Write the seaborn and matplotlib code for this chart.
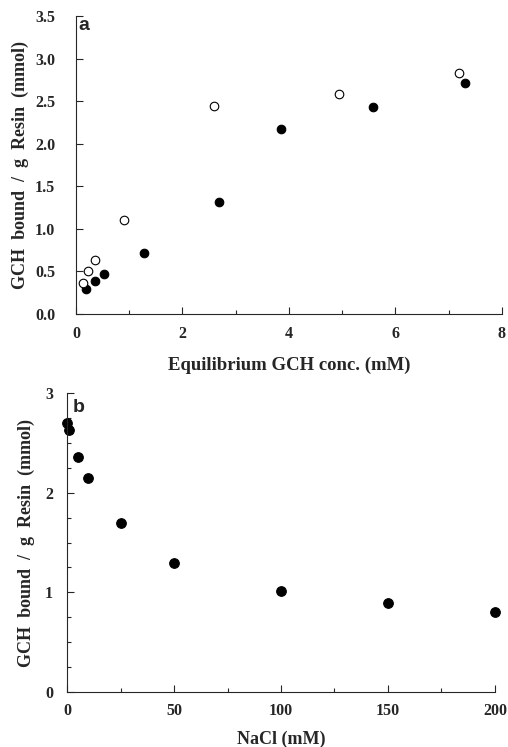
import numpy as np
import pandas as pd
import seaborn as sns
import matplotlib.pyplot as plt
from matplotlib.ticker import MultipleLocator, FormatStrFormatter

# Panel a: equilibrium binding (filled and open series)
conc_filled = [0.19, 0.35, 0.53, 1.28, 2.69, 3.86, 5.57, 7.31]
bound_filled = [0.29, 0.39, 0.47, 0.72, 1.31, 2.17, 2.43, 2.71]
conc_open = [0.13, 0.23, 0.36, 0.91, 2.59, 4.94, 7.19]
bound_open = [0.36, 0.50, 0.63, 1.10, 2.44, 2.58, 2.83]

# Panel b: effect of NaCl
nacl = [0, 1, 5, 10, 25, 50, 100, 150, 200]
bound_nacl = [2.70, 2.63, 2.36, 2.15, 1.70, 1.29, 1.01, 0.89, 0.80]

ylab = 'GCH  bound  /  g  Resin  (mmol)'

sns.set_style('ticks')
plt.rcParams['font.family'] = ['Liberation Serif', 'DejaVu Serif']
plt.rcParams['font.weight'] = 'bold'
plt.rcParams['axes.labelweight'] = 'bold'

fig = plt.figure(figsize=(5.08, 7.47), dpi=100)
ax1 = fig.add_axes([0.1496, 0.5797, 0.8384, 0.3989])
ax2 = fig.add_axes([0.1319, 0.0736, 0.8425, 0.4003])

sns.scatterplot(x=conc_filled, y=bound_filled, ax=ax1, s=38, color='black',
                edgecolor='black', linewidth=0.8, clip_on=False)
sns.scatterplot(x=conc_open, y=bound_open, ax=ax1, s=38, facecolor='white',
                edgecolor='black', linewidth=0.8, clip_on=False)
sns.scatterplot(x=nacl, y=bound_nacl, ax=ax2, s=48, color='black',
                edgecolor='black', linewidth=0.8, clip_on=False)

ax1.set_xlim(0, 8)
ax1.set_ylim(0, 3.5)
ax1.xaxis.set_major_locator(MultipleLocator(2))
ax1.xaxis.set_minor_locator(MultipleLocator(1))
ax1.yaxis.set_major_locator(MultipleLocator(0.5))
ax1.yaxis.set_major_formatter(FormatStrFormatter('%.1f'))
ax1.tick_params(axis='y', pad=15)
ax1.tick_params(axis='x', pad=9)
ax1.set_xlabel('Equilibrium GCH conc. (mM)', fontsize=13.5, labelpad=10)
ax1.set_ylabel(ylab, fontsize=13, labelpad=4)

ax2.set_xlim(0, 200)
ax2.set_ylim(0, 3)
ax2.xaxis.set_major_locator(MultipleLocator(50))
ax2.xaxis.set_minor_locator(MultipleLocator(25))
ax2.yaxis.set_major_locator(MultipleLocator(1))
ax2.yaxis.set_minor_locator(MultipleLocator(0.25))
ax2.tick_params(axis='y', pad=10)
ax2.tick_params(axis='x', pad=8)
ax2.set_xlabel('NaCl (mM)', fontsize=13, labelpad=8)
ax2.set_ylabel(ylab, fontsize=13, labelpad=7)

for ax in (ax1, ax2):
    sns.despine(ax=ax)
    ax.tick_params(which='both', direction='in', labelsize=11.5, width=0.8)
    ax.tick_params(which='major', length=5)
    ax.tick_params(which='minor', length=3)
    for sp in ax.spines.values():
        sp.set_linewidth(0.8)

ax1.text(0.005, 0.953, 'a', transform=ax1.transAxes, ha='left', va='baseline',
         fontsize=14, fontweight='bold', family='Liberation Sans')
ax2.text(0.014, 0.936, 'b', transform=ax2.transAxes, ha='left', va='baseline',
         fontsize=14, fontweight='bold', family='Liberation Sans')

fig.savefig('out.png', dpi=100)
